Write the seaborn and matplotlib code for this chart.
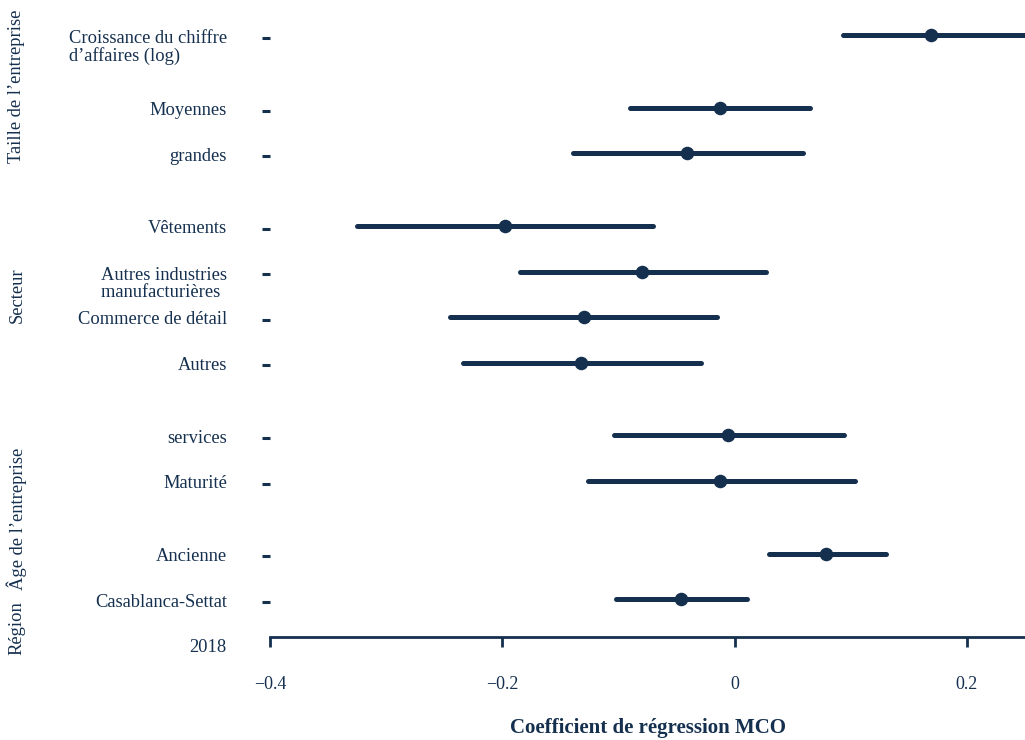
import numpy as np
import pandas as pd
import matplotlib
matplotlib.use("Agg")
import matplotlib.pyplot as plt
import seaborn as sns

# rows, top to bottom ("2018" has no estimate)
labels = ["Croissance du chiffre\nd\u2019affaires (log)", "Moyennes", "grandes",
          "V\u00eatements", "Autres industries\nmanufacturi\u00e8res ", "Commerce de d\u00e9tail", "Autres",
          "services", "Maturit\u00e9",
          "Ancienne", "Casablanca-Settat", "2018"]
block = [1, 2, 2, 3, 3, 3, 3, 4, 4, 5, 5, 5]
coef = [0.169, -0.013, -0.041, -0.198, -0.080, -0.130, -0.132, -0.006, -0.013, 0.079, -0.046, np.nan]
ci_low = [0.093, -0.090, -0.139, -0.325, -0.185, -0.245, -0.234, -0.104, -0.126, 0.030, -0.102, np.nan]
ci_high = [0.250, 0.065, 0.059, -0.070, 0.027, -0.015, -0.029, 0.094, 0.104, 0.130, 0.011, np.nan]

groups = ["Taille de l\u2019entreprise", "Secteur", "\u00c2ge de l\u2019entreprise", "R\u00e9gion"]
xticks = [-0.4, -0.2, 0, 0.2]
xticklabels = ["\u22120.4", "\u22120.2", "0", "0.2"]

navy = "#15304f"

# row positions: one unit per row, extra gap between blocks
pos = []
p = 0.0
for i, b in enumerate(block):
    if i > 0:
        p += 1.0 + (0.6 if b != block[i - 1] else 0.0)
    pos.append(p)

df = pd.DataFrame({"label": labels, "coef": coef, "lo": ci_low, "hi": ci_high, "pos": pos})
est = df.dropna()

sns.set_style("white")
plt.rcParams["font.family"] = ["Liberation Serif", "DejaVu Serif"]
plt.rcParams["text.color"] = navy
plt.rcParams["axes.labelcolor"] = navy
plt.rcParams["xtick.color"] = navy
plt.rcParams["ytick.color"] = navy

fig = plt.figure(figsize=(10.25, 7.4), dpi=100)
ax = fig.add_axes([270 / 1025, 1 - 637 / 740, 755 / 1025, 627 / 740])

ax.hlines(est["pos"], est["lo"], est["hi"], color=navy, linewidth=3.6, capstyle="round", zorder=2)
sns.scatterplot(data=est, x="coef", y="pos", ax=ax, color=navy, s=95, edgecolor=navy,
                linewidth=0, zorder=3, legend=False)

ax.set_xlim(-0.4, 0.25)
ax.set_ylim(13.23, -0.55)

ax.set_xticks(xticks)
ax.set_xticklabels(xticklabels, fontsize=13)
ax.tick_params(axis="x", bottom=True, direction="out", length=7, width=2, pad=21)

ax.set_yticks(est["pos"] + 0.06)
ax.set_yticklabels([])
ax.tick_params(axis="y", left=True, direction="out", length=6, width=2.2, pad=0)

for s in ["top", "right", "left"]:
    ax.spines[s].set_visible(False)
ax.spines["bottom"].set_color(navy)
ax.spines["bottom"].set_linewidth(2)

# labels: first line centred on the row
trans = matplotlib.transforms.blended_transform_factory(fig.transFigure, ax.transData)
for lab, y in zip(labels, pos):
    extra = (lab.count("\n")) * 0.40
    ax.text(227 / 1025, y + 0.16 + extra, lab, transform=trans, ha="right", va="baseline",
            multialignment="left", fontsize=13.3, linespacing=1.0, clip_on=False)

ax.set_xlabel("Coefficient de r\u00e9gression MCO", fontsize=15, fontweight="bold", labelpad=18)
ax.set_ylabel("")

group_y = [86, 295, 519, 628]
for g, y in zip(groups, group_y):
    fig.text(17 / 1025, 1 - y / 740, g, rotation=90, ha="center", va="center", fontsize=13.3)

fig.savefig("out.png", dpi=100)
